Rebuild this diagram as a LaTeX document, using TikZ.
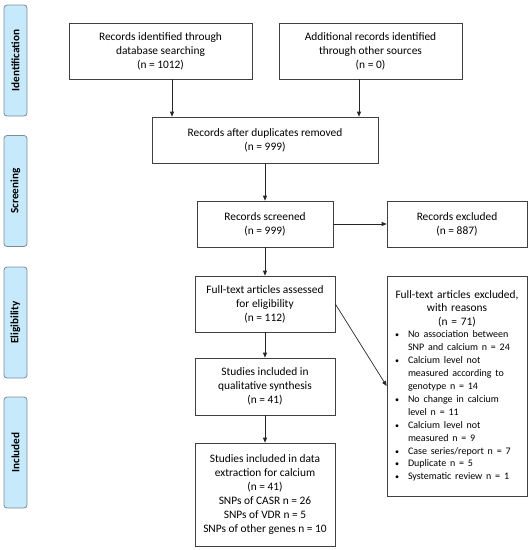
\documentclass[tikz,border=0pt]{standalone}
\usepackage{fontspec}
\setmainfont{Carlito}
\usepackage{enumitem}
\usetikzlibrary{positioning,arrows.meta,calc}

\definecolor{phasefill}{HTML}{C6E9FB}
\definecolor{phaseline}{HTML}{7A8C96}

\begin{document}
\begin{tikzpicture}[x=1pt,y=-1pt,
  font=\fontsize{11.4}{14}\selectfont,
  box/.style={draw=black!75, line width=0.7pt, align=center, inner sep=4pt},
  phase/.style={draw=phaseline, fill=phasefill, line width=0.8pt, rounded corners=3pt,
    rotate=90, minimum width=111, minimum height=23, inner sep=0pt,
    font=\fontsize{11.2}{12}\selectfont\bfseries},
  arr/.style={-{Triangle[length=5pt,width=4pt]}, line width=0.7pt, draw=black!85}]
\useasboundingbox (0,0) rectangle (531,550);
% phase labels on the left
\node[phase] (ident) at (15.5,60.5) {Identification};
\node[phase] (scree) at (15.5,191) {Screening};
\node[phase] (eligi) at (15.5,322.5) {Eligibility};
\node[phase] (inclu) at (15.5,452.5) {Included};
% boxes
\node[box, minimum width=183, minimum height=56] (dbrec) at (160.5,51)
  {Records identified through\\ database searching\\ (n = 1012)};
\node[box, minimum width=183, minimum height=56] (othrec) at (370.5,51)
  {Additional records identified\\ through other sources\\ (n = 0)};
\node[box, minimum width=226, minimum height=46] (dedup) at (265,140)
  {Records after duplicates removed\\ (n = 999)};
\node[box, minimum width=136, minimum height=46] (screen) at (265,224)
  {Records screened\\ (n = 999)};
\node[box, minimum width=140, minimum height=46] (excl) at (457,224)
  {Records excluded\\ (n = 887)};
\node[box, minimum width=140, minimum height=56] (assess) at (265,304)
  {Full-text articles assessed\\ for eligibility\\ (n = 112)};
\node[box, minimum width=140, minimum height=57] (qual) at (265,386.5)
  {Studies included in\\ qualitative synthesis\\ (n = 41)};
\node[box, minimum width=140, minimum height=103] (calc) at (265,494.5)
  {Studies included in data\\ extraction for calcium\\ (n = 41)\\ SNPs of CASR n = 26\\
   SNPs of VDR n = 5\\ SNPs of other genes n = 10};
\node[box, minimum width=140, minimum height=220, text width=132, align=left,
  font=\fontsize{11.4}{13.3}\selectfont] (ftexcl) at (457,386)
  {{\centering Full-text articles excluded,\\ with reasons\\ (n = 71)\par}
   \fontsize{10}{12.9}\selectfont
   \begin{itemize}[label={\footnotesize\textbullet}, leftmargin=17pt, labelsep=9pt,
     labelwidth=4pt, align=left, topsep=0pt, itemsep=0pt, parsep=0pt, partopsep=0pt]
   \item No association between\\ SNP and calcium n = 24
   \item Calcium level not\\ measured according to\\ genotype n = 14
   \item No change in calcium\\ level n = 11
   \item Calcium level not\\ measured n = 9
   \item Case series/report n = 7
   \item Duplicate n = 5
   \item Systematic review n = 1
   \end{itemize}};
% connectors
\draw[arr] ([xshift=11.5]dbrec.south) -- ([xshift=11.5]dbrec.south |- dedup.north);
\draw[arr] ([xshift=-11.5]othrec.south) -- ([xshift=-11.5]othrec.south |- dedup.north);
\draw[arr] (dedup) -- (screen);
\draw[arr] (screen) -- (excl);
\draw[arr] (screen) -- (assess);
\draw[arr] (assess.east) -- (ftexcl.west);
\draw[arr] (assess) -- (qual);
\draw[arr] (qual) -- (calc);
\end{tikzpicture}
\end{document}
